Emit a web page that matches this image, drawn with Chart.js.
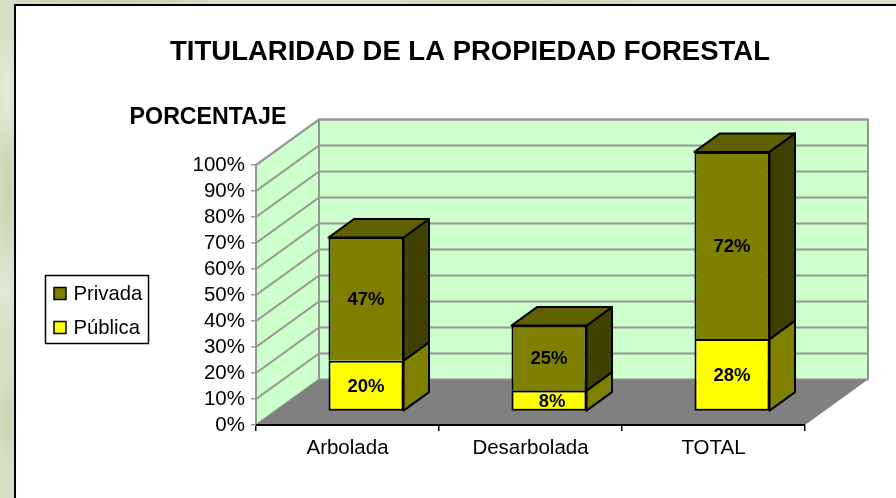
<!DOCTYPE html>
<html>
<head>
<meta charset="utf-8">
<title>Titularidad de la propiedad forestal</title>
<script src="https://cdn.jsdelivr.net/npm/chart.js@4"></script>
<style>
  html, body { margin: 0; padding: 0; width: 896px; height: 498px; overflow: hidden; }
  body {
    background-color: #d6e0c6;
    background-image:
      radial-gradient(ellipse 14px 60px at 6px 90px, #e6ecd9, transparent),
      radial-gradient(ellipse 12px 70px at 8px 190px, #c6d3ad, transparent),
      radial-gradient(ellipse 14px 40px at 5px 290px, #e2e8d8, transparent),
      radial-gradient(ellipse 12px 50px at 9px 420px, #c8d5b2, transparent),
      radial-gradient(ellipse 120px 4px at 110px 1px, #c2cfa9, transparent),
      radial-gradient(ellipse 140px 4px at 520px 2px, #c4d1ac, transparent);
  }
  #panel { position: absolute; left: 14px; top: 4px; right: 0; bottom: 0; background: #fff;
           border-left: 2px solid #000; border-top: 2px solid #000; }
  canvas { position: absolute; left: 0; top: 0; }
</style>
</head>
<body>
<div id="panel"></div>
<canvas id="chartBar" width="896" height="498"></canvas>
<script>
const categories = ["Arbolada", "Desarbolada", "TOTAL"];
const publica = [19.5, 8, 27.8];
const privada = [47.4, 25, 72];
const yTicksMax = 100;

const FONT = '"Liberation Sans", Arial, sans-serif';

// 3D look: depth of the walls and of the bars, in pixels
const wallDx = 63, wallDy = 45.5;
const barDx = 25.5, barDy = 18.5;
const shiftX = 18.5, shiftY = 13.6;

function poly(ctx, pts, fill, stroke, lw) {
  ctx.beginPath();
  pts.forEach(function (p, i) {
    if (i === 0) ctx.moveTo(p[0], p[1]);
    else ctx.lineTo(p[0], p[1]);
  });
  ctx.closePath();
  ctx.fillStyle = fill;
  ctx.fill();
  if (stroke) {
    ctx.strokeStyle = stroke;
    ctx.lineWidth = lw;
    ctx.lineJoin = "round";
    ctx.stroke();
  }
}

const walls3d = {
  id: "walls3d",
  beforeDatasetsDraw(chart) {
    const ctx = chart.ctx;
    const a = chart.chartArea;
    const y = chart.scales.y;
    const gridColor = "#969696";
    ctx.save();
    // side wall, back wall, then the floor over their outlines
    poly(ctx, [[a.left, a.top], [a.left + wallDx, a.top - wallDy], [a.left + wallDx, a.bottom - wallDy], [a.left, a.bottom]], "#ccffcc", gridColor, 2);
    poly(ctx, [[a.left + wallDx, a.top - wallDy], [a.right + wallDx, a.top - wallDy], [a.right + wallDx, a.bottom - wallDy], [a.left + wallDx, a.bottom - wallDy]], "#ccffcc", gridColor, 2);
    poly(ctx, [[a.left, a.bottom], [a.right, a.bottom], [a.right + wallDx, a.bottom - wallDy], [a.left + wallDx, a.bottom - wallDy]], "#808080");

    ctx.strokeStyle = gridColor;
    ctx.lineWidth = 2;
    y.ticks.forEach(function (t) {
      if (t.value === 0) return;
      const py = y.getPixelForValue(t.value);
      ctx.beginPath();
      ctx.moveTo(a.left, py);
      ctx.lineTo(a.left + wallDx, py - wallDy);
      ctx.lineTo(a.right + wallDx, py - wallDy);
      ctx.stroke();
    });
    // y axis line
    ctx.beginPath();
    ctx.moveTo(a.left, a.top);
    ctx.lineTo(a.left, a.bottom);
    ctx.stroke();
    // front edge of the floor
    ctx.strokeStyle = "#000";
    ctx.beginPath();
    ctx.moveTo(a.left, a.bottom);
    ctx.lineTo(a.right, a.bottom);
    ctx.stroke();

    // sides and tops of the bars, fronts are left to Chart.js
    ctx.translate(shiftX, -shiftY);
    chart.data.datasets.forEach(function (ds, i) {
      const last = i === chart.data.datasets.length - 1;
      chart.getDatasetMeta(i).data.forEach(function (el) {
        const r = el.x + el.width / 2, l = el.x - el.width / 2;
        poly(ctx, [[r, el.y], [r + barDx, el.y - barDy], [r + barDx, el.base - barDy], [r, el.base]], ds.sideColor, "#000", 2);
        if (last) {
          poly(ctx, [[l, el.y], [l + barDx, el.y - barDy], [r + barDx, el.y - barDy], [r, el.y]], ds.topColor, "#000", 2);
        }
      });
    });
    ctx.restore();
  },
  beforeDatasetDraw(chart) {
    chart.ctx.save();
    chart.ctx.translate(shiftX, -shiftY);
  },
  afterDatasetDraw(chart) {
    chart.ctx.restore();
  },
  afterDatasetsDraw(chart) {
    const ctx = chart.ctx;
    ctx.save();
    ctx.fillStyle = "#000";
    ctx.textAlign = "center";
    ctx.textBaseline = "middle";
    // value labels
    ctx.font = "bold 18.5px " + FONT;
    chart.data.datasets.forEach(function (ds, i) {
      chart.getDatasetMeta(i).data.forEach(function (el, j) {
        const nudge = ds.data[j] < 10 ? 3 : 0;
        ctx.fillText(Math.round(ds.data[j]) + "%", el.x + shiftX + nudge, (el.y + el.base) / 2 - shiftY + 1);
      });
    });
    // axis title
    ctx.font = "bold 23.2px " + FONT;
    ctx.fillText("PORCENTAJE", 208, 118);

    // legend box, series listed top to bottom
    ctx.textAlign = "left";
    ctx.font = "20.3px " + FONT;
    ctx.fillStyle = "#fff";
    ctx.strokeStyle = "#000";
    ctx.lineWidth = 1.5;
    ctx.fillRect(45.5, 275.5, 103, 68);
    ctx.strokeRect(45.5, 275.5, 103, 68);
    [chart.data.datasets[1], chart.data.datasets[0]].forEach(function (ds, i) {
      const top = 287.5 + i * 34;
      ctx.fillStyle = ds.backgroundColor;
      ctx.fillRect(54, top, 12, 12);
      ctx.strokeRect(54, top, 12, 12);
      ctx.fillStyle = "#000";
      ctx.fillText(ds.label, 73.5, top + 7);
    });
    ctx.restore();
  },
};

new Chart(document.getElementById("chartBar"), {
  type: "bar",
  data: {
    labels: categories,
    datasets: [
      { label: "Pública", data: publica, backgroundColor: "#ffff00", sideColor: "#808000", topColor: "#808000", borderColor: "#000", borderWidth: 2, borderSkipped: false },
      { label: "Privada", data: privada, backgroundColor: "#808000", sideColor: "#404000", topColor: "#606000", borderColor: "#000", borderWidth: { top: 2, left: 2, right: 2, bottom: 0 }, borderSkipped: false },
    ],
  },
  options: {
    responsive: false,
    animation: false,
    events: [],
    layout: { padding: { left: 135, right: 91, top: 0, bottom: 33 } },
    datasets: { bar: { categoryPercentage: 1, barPercentage: 0.41 } },
    plugins: {
      legend: { display: false },
      tooltip: { enabled: false },
      title: {
        display: true,
        text: "TITULARIDAD DE LA PROPIEDAD FORESTAL",
        color: "#000",
        font: { family: FONT, size: 27.5, weight: "bold", lineHeight: 1.2 },
        padding: { top: 35.5, bottom: 96.5 },
      },
    },
    scales: {
      x: {
        stacked: true,
        afterFit(s) { s.height = 40; },
        grid: { drawOnChartArea: false, color: "#000", tickLength: 6, lineWidth: 1.5 },
        border: { display: false },
        ticks: { color: "#000", font: { family: FONT, size: 20.5 }, padding: 5, maxRotation: 0 },
      },
      y: {
        stacked: true,
        min: 0,
        max: yTicksMax,
        afterFit(s) { s.width = 121; },
        grid: { drawOnChartArea: false, color: "#969696", tickLength: 5, lineWidth: 1.5 },
        border: { display: false },
        ticks: {
          stepSize: 10,
          autoSkip: false,
          color: "#000",
          font: { family: FONT, size: 20.5 },
          padding: 6,
          callback: function (v) { return v + "%"; },
        },
      },
    },
  },
  plugins: [walls3d],
});
</script>
</body>
</html>
